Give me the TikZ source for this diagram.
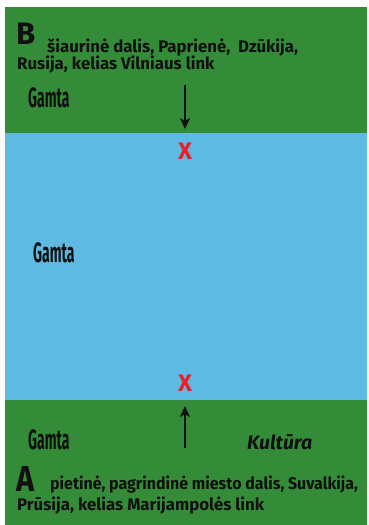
\documentclass[tikz,border=0pt]{standalone}
\usepackage{fontspec}
\usepackage{graphicx}
\usepackage{xcolor}
\usetikzlibrary{arrows.meta}
\setmainfont{Fira Sans}
\definecolor{fieldgreen}{HTML}{348C38}
\definecolor{riverblue}{HTML}{5EBAE3}
\definecolor{markred}{HTML}{E8202A}
\definecolor{inkdark}{HTML}{101010}

\begin{document}
\begin{tikzpicture}[x=1pt, y=-1pt,
    place/.style={anchor=base west, inner sep=0pt, text=inkdark, font=\bfseries\fontsize{16.8}{18}\selectfont},
    bigletter/.style={anchor=base west, inner sep=0pt, text=inkdark, font=\bfseries\fontsize{31}{31}\selectfont},
    nature/.style={anchor=base west, inner sep=0pt, text=inkdark, font=\bfseries\fontsize{28}{28}\selectfont},
    crossmark/.style={inner sep=0pt, text=markred, font=\bfseries\fontsize{24}{24}\selectfont},
    flow/.style={inkdark, line width=2.4pt, -{Stealth[length=11pt, width=10pt, inset=3pt]}}]
    \useasboundingbox (0,0) rectangle (369,525);
    % banks and river
    \fill[fieldgreen] (5,7) rectangle (367,133);
    \fill[riverblue] (5,133) rectangle (367,400);
    \fill[fieldgreen] (5,400) rectangle (367,525);
    % B side (north)
    \node[bigletter] (bletter) at (16,44) {B};
    \node[place] (bline1) at (47,52) {šiaurinė dalis, Paprienė,\ \ Dzūkija,};
    \node[place] (bline2) at (17,69) {Rusija, kelias Vilniaus link};
    \node[nature] (gamtab) at (28,107) {\scalebox{0.5}[1]{Gamta}};
    \coordinate (btail) at (185,85);
    \coordinate (bhead) at (185,129);
    \draw[flow] (btail) -- (bhead);
    \node[crossmark] (xtop) at (185,151) {X};
    % river
    \node[nature] (gamtar) at (33,262) {\scalebox{0.5}[1]{Gamta}};
    \node[crossmark] (xbot) at (185,383) {X};
    % A side (south)
    \coordinate (atail) at (185,448);
    \coordinate (ahead) at (185,406);
    \draw[flow] (atail) -- (ahead);
    \node[nature] (gamtaa) at (28,449) {\scalebox{0.5}[1]{Gamta}};
    \node[place, font=\bfseries\itshape\fontsize{19.5}{19.5}\selectfont] (kultura) at (247,449) {Kultūra};
    \node[bigletter, font=\bfseries\fontsize{36}{36}\selectfont] (aletter) at (16,491) {\scalebox{0.85}[1]{A}};
    \node[place] (aline1) at (50,489) {\scalebox{0.95}[1]{pietinė, pagrindinė miesto dalis, Suvalkija,}};
    \node[place] (aline2) at (17,510) {Prūsija, kelias Marijampolės link};
\end{tikzpicture}
\end{document}
